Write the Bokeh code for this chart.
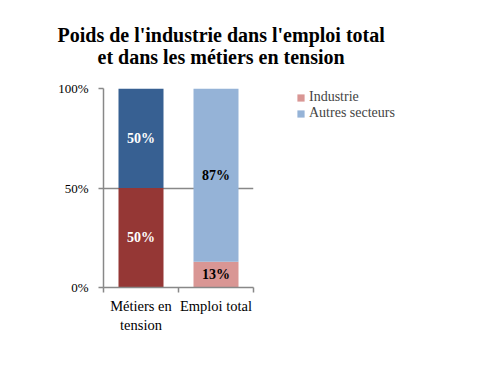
from bokeh.plotting import figure
from bokeh.models import (ColumnDataSource, FixedTicker, Range1d, Title, Legend, LegendItem, LabelSet)
from bokeh.embed import file_html
from bokeh.resources import INLINE

title_lines = ["Poids de l'industrie dans l'emploi total", "et dans les métiers en tension"]
categories = ["Métiers en\ntension", "Emploi total"]
industrie = [50, 13]
autres = [50, 87]
ind_colors = ["#953735", "#D99694"]
aut_colors = ["#376092", "#95B3D7"]
label_colors = ["white", "black"]
y_ticks = [0, 50, 100]
y_tick_labels = ["0%", "50%", "100%"]

FONT = "Liberation Serif"
xs = [i + 0.5 for i in range(len(categories))]

src = ColumnDataSource(dict(
    x=xs, ind=industrie, aut=autres,
    top_ind=industrie, top_all=[a + b for a, b in zip(industrie, autres)],
    ind_c=ind_colors, aut_c=aut_colors, lab_c=label_colors,
    y_ind=[v / 2 for v in industrie],
    y_aut=[a + b / 2 for a, b in zip(industrie, autres)],
    t_ind=[f"{v}%" for v in industrie],
    t_aut=[f"{v}%" for v in autres],
))

p = figure(frame_width=150, frame_height=199, output_backend="svg", toolbar_location=None,
           x_range=Range1d(0, len(categories)), y_range=Range1d(0, 100),
           min_border_left=103, min_border_right=0, min_border_top=88, min_border_bottom=105)
p.outline_line_color = None
p.background_fill_color = "white"
p.border_fill_color = "white"

r1 = p.vbar(x="x", bottom=0, top="top_ind", width=0.6, fill_color="ind_c", line_color=None, source=src)
r2 = p.vbar(x="x", bottom="top_ind", top="top_all", width=0.6, fill_color="aut_c", line_color=None, source=src)

for col_y, col_t in (("y_ind", "t_ind"), ("y_aut", "t_aut")):
    p.add_layout(LabelSet(x="x", y=col_y, text=col_t, source=src, text_color="lab_c",
                          text_font=FONT, text_font_style="bold", text_font_size="14px",
                          text_align="center", text_baseline="middle"))

# grid
p.xgrid.grid_line_color = None
p.ygrid.ticker = FixedTicker(ticks=y_ticks)
p.ygrid.grid_line_color = "#888888"
p.ygrid.grid_line_width = 1.5

# y axis
ya = p.yaxis[0]
ya.ticker = FixedTicker(ticks=y_ticks)
ya.major_label_overrides = {t: l for t, l in zip(y_ticks, y_tick_labels)}
ya.axis_line_color = "#888888"
ya.axis_line_width = 1.5
ya.major_tick_line_color = "#888888"
ya.major_tick_line_width = 1.5
ya.major_tick_out = 5
ya.major_tick_in = 0
ya.minor_tick_line_color = None
ya.major_label_text_font = FONT
ya.major_label_text_font_size = "13px"
ya.major_label_text_color = "black"
ya.major_label_standoff = 10

# x axis
xa = p.xaxis[0]
xa.ticker = FixedTicker(ticks=xs, minor_ticks=list(range(len(categories) + 1)))
xa.major_label_overrides = {x: c for x, c in zip(xs, categories)}
xa.axis_line_color = "#888888"
xa.axis_line_width = 1.5
xa.major_tick_line_color = None
xa.minor_tick_line_color = "#888888"
xa.minor_tick_line_width = 1.5
xa.minor_tick_out = 5
xa.minor_tick_in = 0
xa.major_label_text_font = FONT
xa.major_label_text_font_size = "14.5px"
xa.major_label_text_color = "black"
xa.major_label_standoff = 4

legend = Legend(items=[
    LegendItem(label="Industrie", renderers=[r1], index=1),
    LegendItem(label="Autres secteurs", renderers=[r2], index=1),
], location=(43, 166))
legend.border_line_color = None
legend.background_fill_alpha = 0
legend.label_text_font = FONT
legend.label_text_font_size = "14px"
legend.glyph_width = 9
legend.glyph_height = 9
legend.spacing = 0
legend.padding = 0
legend.margin = 0
legend.label_standoff = 4
legend.label_height = 13
p.add_layout(legend, "right")

# two-line title; second line indented with non-breaking spaces so it sits centred
title_text = title_lines[0] + "\n" + "\u00a0" * 8 + title_lines[1]
p.add_layout(Title(text=title_text, align="left", offset=-46, standoff=42,
                   text_font=FONT, text_font_style="bold", text_font_size="20px",
                   text_line_height=1.0, text_color="black"), "above")

open("out.html", "w").write(file_html(p, INLINE))
